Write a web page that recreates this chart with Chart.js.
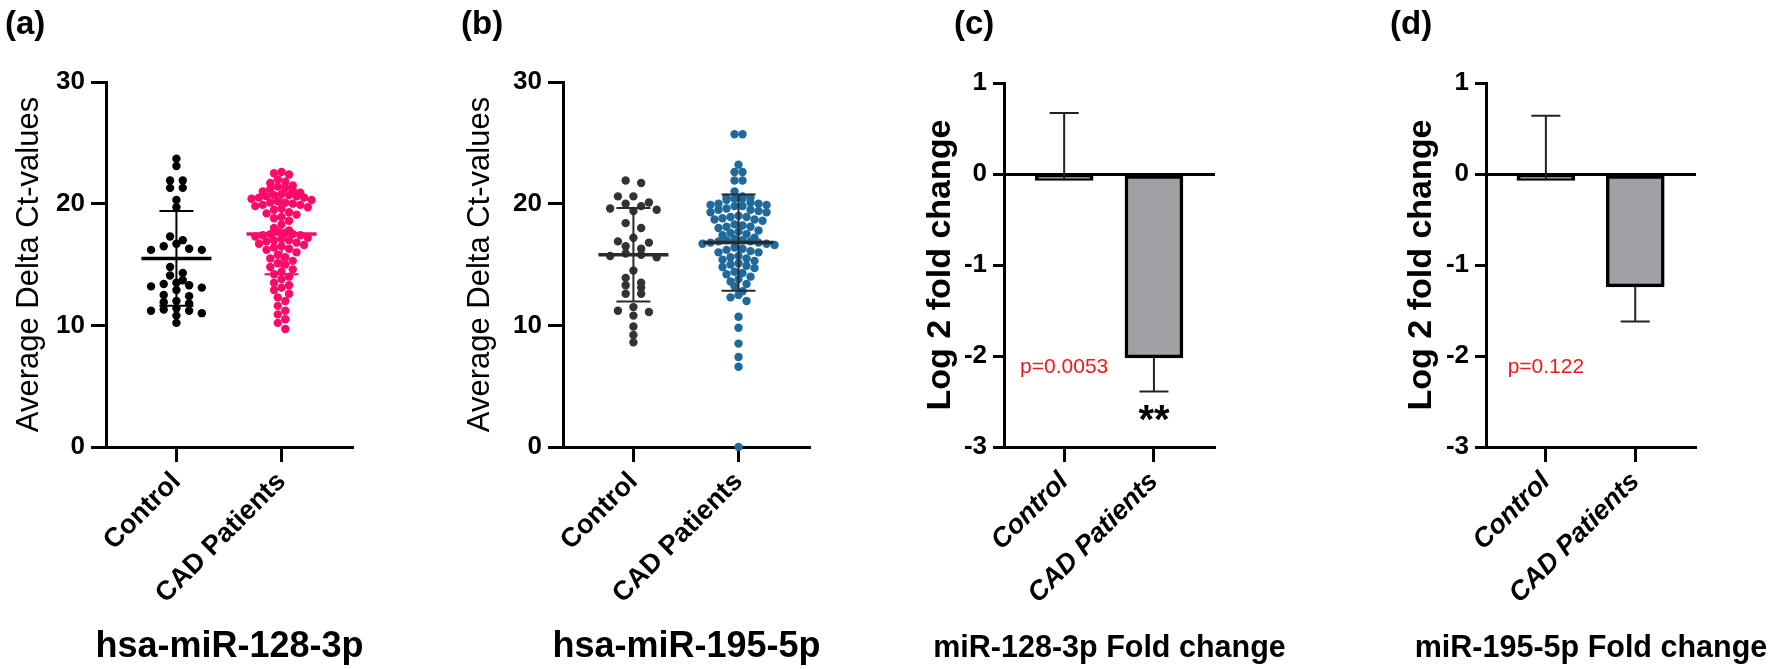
<!DOCTYPE html>
<html>
<head>
<meta charset="utf-8">
<title>miR-128-3p and miR-195-5p in CAD</title>
<script src="https://cdn.jsdelivr.net/npm/chart.js@4.4.1/dist/chart.umd.min.js"></script>
<style>
  html, body { margin: 0; background: #fff; }
  #fig { position: relative; width: 1770px; height: 669px; overflow: hidden; font-family: "Liberation Sans", Arial, sans-serif; }
  #fig canvas { position: absolute; left: 0; top: 0; }
  .tag { position: absolute; top: 3px; font-weight: bold; font-size: 33px; line-height: 40px; color: #000; }
</style>
</head>
<body>
<div id="fig">
  <canvas id="pa" width="1770" height="669"></canvas>
  <canvas id="pb" width="1770" height="669"></canvas>
  <canvas id="pc" width="1770" height="669"></canvas>
  <canvas id="pd" width="1770" height="669"></canvas>
  <div class="tag" style="left:5px">(a)</div>
  <div class="tag" style="left:461px">(b)</div>
  <div class="tag" style="left:954px">(c)</div>
  <div class="tag" style="left:1390px">(d)</div>
</div>
<script>
const GROUPS = ["Control", "CAD Patients"];

// (a) hsa-miR-128-3p, average delta Ct per subject
const ctrl128 = [23.7, 23.1, 21.9, 21.9, 21.3, 21.3, 20.3, 19.7, 17.3, 17.0, 16.7, 16.5,
  16.3, 16.2, 16.2, 14.8, 14.3, 14.1, 13.7, 13.5, 13.4, 13.3, 13.2, 13.1, 12.9, 12.5,
  12.4, 12.0, 11.9, 11.8, 11.4, 11.3, 11.2, 11.2, 11.0, 10.8, 10.2];
const cad128 = [22.6, 22.5, 22.4,
  22.0, 21.8, 21.7, 21.5,
  21.4, 21.3, 21.2, 21.1, 21.0, 20.9,
  20.8, 20.7, 20.7, 20.6, 20.6, 20.5, 20.5, 20.4, 20.3,
  20.2, 20.1, 20.1, 20.0, 19.9, 19.9, 19.8, 19.7,
  19.6, 19.5, 19.3, 19.2, 19.1,
  18.9, 18.8, 18.6, 18.3, 18.0,
  17.8, 17.7, 17.6, 17.5, 17.5, 17.4, 17.4, 17.3,
  17.2, 17.1, 17.0, 17.0, 16.9, 16.8, 16.7,
  16.6, 16.5, 16.4, 16.3, 16.2,
  16.0, 15.8, 15.6, 15.5, 15.3, 15.1, 15.0,
  14.8, 14.6, 14.4, 14.2, 14.0, 13.8, 13.5, 13.3, 13.1,
  12.9, 12.6, 12.3, 12.0, 11.6, 11.2, 10.9, 10.5, 10.2, 9.7];

// (b) hsa-miR-195-5p
const ctrl195 = [21.9, 21.7, 20.6, 20.6, 20.1, 20.0, 19.8, 19.6, 19.5, 19.4, 18.4, 18.0,
  17.2, 16.9, 16.8, 16.5, 16.3, 15.9, 15.8, 15.7, 15.6, 14.5, 13.9, 13.5, 13.3, 13.1,
  12.6, 12.6, 11.5, 11.2, 11.1, 10.8, 9.9, 9.2, 8.6];
const cad195 = [25.7, 25.7, 23.2, 22.6, 22.6, 21.9, 21.9, 21.0,
  20.6, 20.5, 20.5, 20.4, 20.4, 20.3,
  20.1, 20.0, 20.0, 19.9, 19.9, 19.8, 19.8,
  19.6, 19.5, 19.5, 19.4, 19.3, 19.3,
  19.0, 18.9, 18.9, 18.8, 18.7, 18.7, 18.6,
  18.3, 18.2, 18.1, 18.1, 18.0,
  17.8, 17.7, 17.6, 17.5, 17.4,
  17.2, 17.1, 17.0, 17.0, 16.9, 16.9, 16.8, 16.8, 16.7, 16.7, 16.6,
  16.4, 16.3, 16.2, 16.1, 16.0, 16.0,
  15.7, 15.6, 15.5, 15.4, 15.3,
  15.1, 15.0, 14.9, 14.8, 14.7,
  14.4, 14.3, 14.2, 14.0,
  13.8, 13.6, 13.4, 13.2,
  12.8, 12.5, 12.3, 12.0,
  10.7, 9.8, 8.5, 7.4, 6.6, 0.0];

// mean and SD lines as drawn in (a) and (b)
const mean128 = [15.5, 17.5];
const sd128 = [3.9, 3.3];
const mean195 = [15.8, 16.8];
const sd195 = [3.85, 3.95];

// (c), (d) log2 fold change: mean, SEM, side of the error bar
const fold128 = [-0.07, -2.02];
const sem128 = [0.74, 0.37];
const fold195 = [-0.07, -1.24];
const sem195 = [0.71, 0.38];
const errSide = [1, -1];
const pText = ["p=0.0053", "p=0.122"];

const FONT = '"Liberation Sans", Arial, sans-serif';
Chart.defaults.font.family = FONT;
Chart.defaults.color = "#000";

const W = 1770, H = 669, YW = 130;

// spread points of one group sideways, row by row, like a GraphPad scatter dot plot
const swarm = {
  id: "swarm",
  afterDatasetsUpdate(chart) {
    chart.data.datasets.forEach((ds, i) => {
      if (!ds.swarmStep) return;
      const pts = chart.getDatasetMeta(i).data.slice().sort((a, b) => a.y - b.y);
      let row = [];
      const flush = () => {
        const n = row.length;
        const slots = row.map((_, k) => (k - (n - 1) / 2) * ds.swarmStep)
          .sort((a, b) => Math.abs(a) - Math.abs(b));
        row.forEach((p, k) => { p.x += slots[k]; });
        row = [];
      };
      pts.forEach(p => {
        if (row.length && p.y - row[0].y >= ds.swarmRow) flush();
        row.push(p);
      });
      if (row.length) flush();
    });
  }
};

const meanSd = {
  id: "meanSd",
  afterDatasetsDraw(chart, args, o) {
    const { ctx, scales: { x, y } } = chart;
    o.means.forEach((m, i) => {
      const cx = x.getPixelForValue(i + 1);
      const top = y.getPixelForValue(m + o.sds[i]);
      const bot = y.getPixelForValue(m - o.sds[i]);
      const my = y.getPixelForValue(m);
      ctx.save();
      ctx.strokeStyle = o.colors[i];
      ctx.lineWidth = 2;
      ctx.beginPath();
      ctx.moveTo(cx, top); ctx.lineTo(cx, bot);
      ctx.moveTo(cx - 17, top); ctx.lineTo(cx + 17, top);
      ctx.moveTo(cx - 17, bot); ctx.lineTo(cx + 17, bot);
      ctx.stroke();
      ctx.lineWidth = 3.5;
      ctx.beginPath();
      ctx.moveTo(cx - 35, my); ctx.lineTo(cx + 35, my);
      ctx.stroke();
      ctx.restore();
    });
  }
};

const semBars = {
  id: "semBars",
  afterDatasetsDraw(chart, args, o) {
    const { ctx, scales: { x, y } } = chart;
    ctx.save();
    ctx.strokeStyle = "#222";
    ctx.lineWidth = 2;
    o.values.forEach((v, i) => {
      const cx = x.getPixelForValue(i + 1);
      const y0 = y.getPixelForValue(v);
      const y1 = y.getPixelForValue(v + errSide[i] * o.sems[i]);
      ctx.beginPath();
      ctx.moveTo(cx, y0); ctx.lineTo(cx, y1);
      ctx.moveTo(cx - 14.5, y1); ctx.lineTo(cx + 14.5, y1);
      ctx.stroke();
    });
    ctx.textAlign = "center";
    ctx.textBaseline = "middle";
    ctx.fillStyle = "#f01818";
    ctx.font = "21px " + FONT;
    ctx.fillText(o.p, x.getPixelForValue(1), y.getPixelForValue(o.pY));
    if (o.stars) {
      ctx.fillStyle = "#000";
      ctx.font = "bold 40px " + FONT;
      ctx.fillText(o.stars, x.getPixelForValue(2), y.getPixelForValue(o.starY));
    }
    ctx.restore();
  }
};

// panel caption under the rotated category labels (axis title would be squeezed to the plot width)
const caption = {
  id: "caption",
  afterDraw(chart, args, o) {
    const { ctx, chartArea } = chart;
    ctx.save();
    ctx.font = "bold " + o.size + "px " + FONT;
    ctx.fillStyle = "#000";
    ctx.textAlign = "center";
    ctx.textBaseline = "alphabetic";
    ctx.fillText(o.text, (chartArea.left + chartArea.right) / 2, o.y);
    ctx.restore();
  }
};

function axes(p) {
  const yLh = p.yTitleSize * 1.2;
  const padLeft = p.box.left - YW;
  return {
    responsive: false,
    animation: false,
    events: [],
    layout: { padding: { left: padLeft, right: W - p.box.right, top: p.box.top, bottom: 0 } },
    plugins: {
      legend: { display: false },
      tooltip: { enabled: false },
      caption: { text: p.xTitle, size: p.xTitleSize, y: 657 }
    },
    scales: {
      x: {
        type: "linear",
        min: 0.33,
        max: 2.68,
        offset: false,
        afterFit: s => { s.height = H - p.box.bottom; },
        afterBuildTicks: s => { s.ticks = GROUPS.map((g, i) => ({ value: i + 1 })); },
        border: { display: true, color: "#000", width: 3 },
        grid: { offset: false, drawOnChartArea: false, drawTicks: true, tickLength: 15, tickWidth: 3, tickColor: "#000" },
        ticks: {
          autoSkip: false, maxRotation: 45, minRotation: 45, padding: 4,
          font: { size: 27, weight: "bold", style: p.italic ? "italic" : "normal" },
          callback: v => GROUPS[v - 1]
        }
      },
      y: {
        min: p.yMin,
        max: p.yMax,
        afterFit: s => { s.width = YW; },
        border: { display: true, color: "#000", width: 3 },
        grid: p.zeroLine
          ? { drawOnChartArea: true, color: c => (c.tick && c.tick.value === 0 ? "#000" : "rgba(0,0,0,0)"),
              lineWidth: 3, tickLength: p.yTick, tickWidth: 3, tickColor: "#000" }
          : { drawOnChartArea: false, tickLength: p.yTick, tickWidth: 3, tickColor: "#000" },
        ticks: { stepSize: p.yStep, padding: 6, font: { size: 26, weight: "bold" } },
        title: {
          display: true, text: p.yTitle,
          font: { size: p.yTitleSize, weight: p.yTitleBold ? "bold" : "normal" },
          padding: { top: p.yTitleX - padLeft - yLh / 2, bottom: 0 }
        }
      }
    }
  };
}

function dots(values, color, step, rowH, group) {
  return {
    data: values.map(v => ({ x: group, y: v })),
    pointRadius: 4.2,
    pointBackgroundColor: color,
    pointBorderWidth: 0,
    clip: false,
    swarmStep: step,
    swarmRow: rowH
  };
}

function scatterPanel(id, box, yTitleX, title, ctrl, cad, colors, barColor, means, sds, steps) {
  const opts = axes({
    box, yMin: 0, yMax: 30, yStep: 10, yTick: 15,
    yTitle: "Average Delta Ct-values", yTitleSize: 31, yTitleBold: false, yTitleX,
    xTitle: title, xTitleSize: 36, italic: false
  });
  opts.plugins.meanSd = { means, sds, colors: barColor };
  new Chart(document.getElementById(id), {
    type: "scatter",
    data: { datasets: [dots(ctrl, colors[0], steps[0], 7, 1), dots(cad, colors[1], steps[1], 7, 2)] },
    options: opts,
    plugins: [swarm, meanSd, caption]
  });
}

function foldPanel(id, box, yTitleX, title, values, sems, p, stars) {
  const opts = axes({
    box, yMin: -3, yMax: 1, yStep: 1, yTick: 11, zeroLine: true,
    yTitle: "Log 2 fold change", yTitleSize: 34, yTitleBold: true, yTitleX,
    xTitle: title, xTitleSize: 30.5, italic: true
  });
  opts.plugins.semBars = { values, sems, p, pY: -2.12, stars, starY: -2.72 };
  new Chart(document.getElementById(id), {
    type: "bar",
    data: {
      datasets: [{
        data: values.map((v, i) => ({ x: i + 1, y: v })),
        backgroundColor: "#a0a0a5",
        borderColor: "#000",
        borderWidth: 3.5,
        borderSkipped: false,
        barThickness: 58
      }]
    },
    options: opts,
    plugins: [semBars, caption]
  });
}

scatterPanel("pa", { left: 106, right: 353, top: 82, bottom: 447 }, 29, "hsa-miR-128-3p",
  ctrl128, cad128, ["#000000", "#ff0a68"], ["#000000", "#ff0a68"], mean128, sd128, [12.7, 7.5]);
scatterPanel("pb", { left: 563, right: 810, top: 82, bottom: 447 }, 480, "hsa-miR-195-5p",
  ctrl195, cad195, ["#333333", "#1f6a9c"], ["#2a2a2a", "#2a2a2a"], mean195, sd195, [15.5, 8]);
foldPanel("pc", { left: 1004, right: 1215, top: 83, bottom: 447 }, 941, "miR-128-3p Fold change",
  fold128, sem128, pText[0], "**");
foldPanel("pd", { left: 1486, right: 1696, top: 83, bottom: 447 }, 1422, "miR-195-5p Fold change",
  fold195, sem195, pText[1], "");
</script>
</body>
</html>
